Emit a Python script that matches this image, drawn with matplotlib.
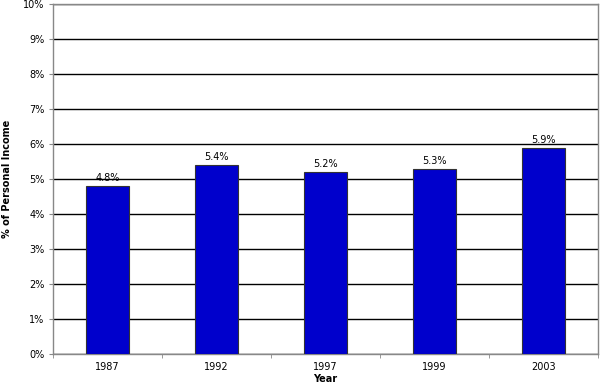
import matplotlib
matplotlib.use("Agg")
import matplotlib.pyplot as plt
import numpy as np

years = ["1987", "1992", "1997", "1999", "2003"]
values = [4.8, 5.4, 5.2, 5.3, 5.9]
yticks = list(range(0, 11))
ytick_labels = [f"{v}%" for v in yticks]

plt.rcParams['font.family'] = ['DejaVu Sans']
fig = plt.figure(figsize=(6, 3.85), dpi=100)
ax = fig.add_axes([53/600, 1-354/385, 545/600, 350/385])

x = np.arange(len(years))
ax.bar(x, values, width=0.4, color="#0000CC", edgecolor="#333333", linewidth=0.8, zorder=3)
for xi, v in zip(x, values):
    ax.text(xi, v + 0.08, f"{v:.1f}%", ha="center", va="bottom", fontsize=7, zorder=4)

ax.set_xlim(-0.5, len(years) - 0.5)
ax.set_ylim(0, 10)
ax.set_yticks(yticks)
ax.set_yticklabels(ytick_labels, fontsize=7)
ax.set_xticks(x)
ax.set_xticklabels(years, fontsize=7)
ax.tick_params(axis='x', length=0, pad=6)
ax.set_xticks(np.arange(-0.5, len(years)), minor=True)
ax.tick_params(axis='x', which='minor', length=3, color="#888888")
ax.tick_params(axis='y', length=3, color="#888888", pad=3)
ax.yaxis.grid(True, color="black", linewidth=1.0, zorder=0)
for s in ax.spines.values():
    s.set_color("#888888")
    s.set_linewidth(1.0)
fig.text(7/600, 1-179/385, "% of Personal Income", rotation=90, fontsize=7,
         fontweight="bold", ha="center", va="center")
fig.text(325/600, 1-379/385, "Year", fontsize=7, fontweight="bold",
         ha="center", va="center")

fig.savefig("out.png", dpi=100)
